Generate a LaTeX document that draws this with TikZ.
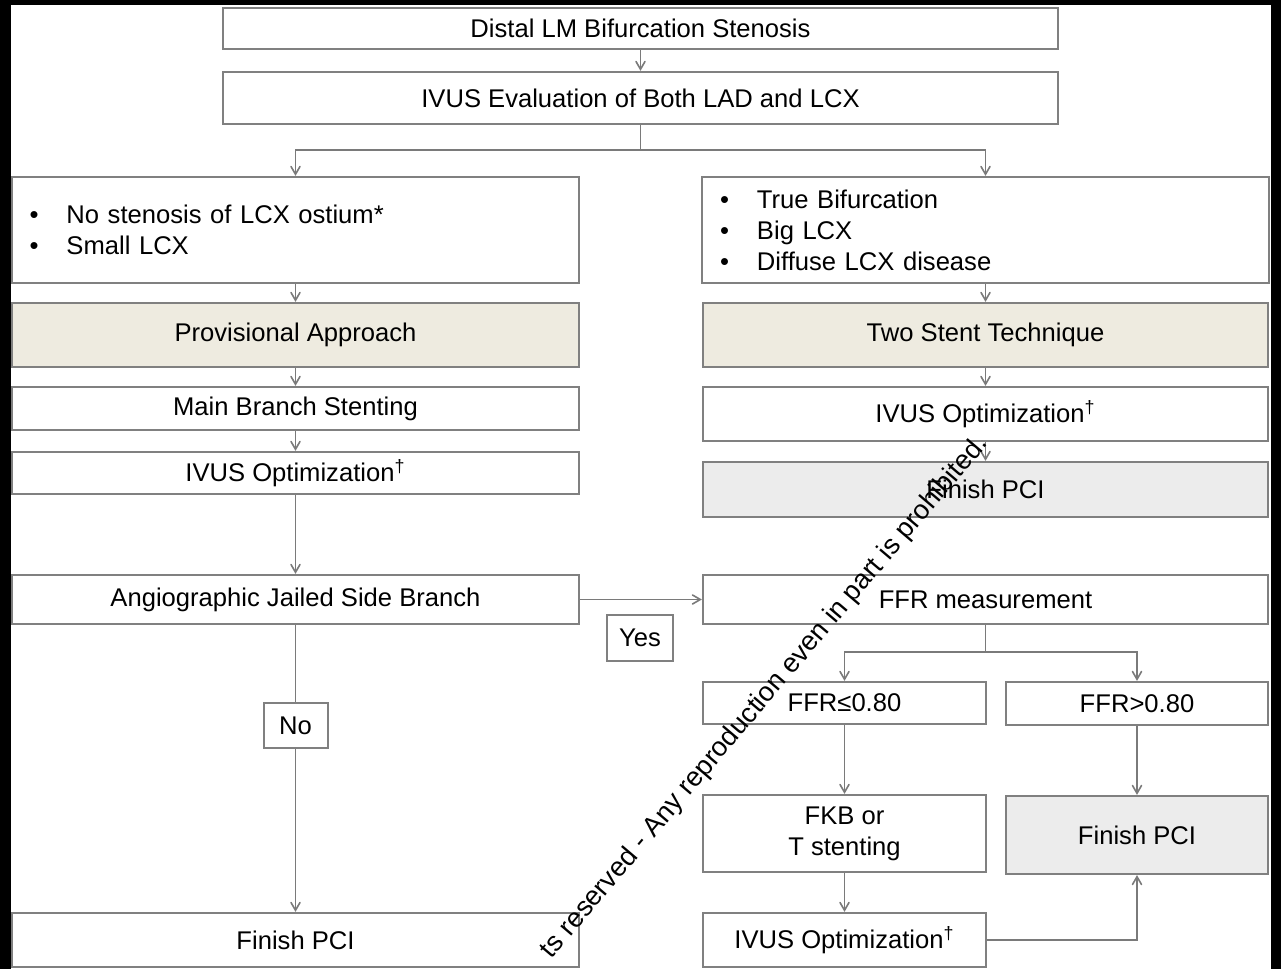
\documentclass[tikz,border=0pt]{standalone}
\usepackage{fontspec}
\setmainfont{Liberation Sans}
\usepackage{tikz}
\usetikzlibrary{arrows, positioning, calc}

\definecolor{boxgray}{HTML}{808080}
\definecolor{approachfill}{HTML}{EEEBE0}
\definecolor{finishfill}{HTML}{ECECEC}
\definecolor{linegray}{HTML}{7A7A7A}

\newcommand{\bul}{\makebox[18.5pt][l]{\textbullet}}

\begin{document}
\begin{tikzpicture}[x=0.5pt, y=-0.5pt,
                font=\fontsize{12.8}{15.5}\selectfont,
                % Define styles
                block/.style={rectangle, draw=boxgray, line width=1.1pt, fill=white, text centered, inner sep=0pt, minimum width=283.5pt},
                approach/.style={block, fill=approachfill},
                finish/.style={block, fill=finishfill},
                criteria/.style={block, align=left, text width=266pt, inner xsep=8.5pt, minimum height=53pt},
                tag/.style={rectangle, draw=boxgray, line width=1pt, fill=white, inner sep=0pt},
                line/.style={draw=linegray, -angle 60, line width=0.8pt},
                link/.style={draw=linegray, line width=0.8pt},
                watermark/.style={font=\fontsize{13.6}{15}\selectfont, text=black, rotate=49.7}
            ]

            % --- Frame ---
            \useasboundingbox (0,0) rectangle (1281,969);
            \fill[black] (0,0) rectangle (1281,969);
            \fill[white] (11,5) rectangle (1271,969);

            % --- Nodes ---

            % 1. Lesion and evaluation
            \node [block, minimum width=417.5pt, minimum height=20.5pt] (lm) at (640.5,28.5) {Distal LM Bifurcation Stenosis};
            \node [block, minimum width=417.5pt, minimum height=26pt] (eval) at (640.5,98) {IVUS Evaluation of Both LAD and LCX};

            % 2. Provisional branch
            \node [criteria] (small) at (295.5,230) {\bul No stenosis of LCX ostium*\\\bul Small LCX};
            \node [approach, minimum height=32pt] (prov) at (295.5,335) {Provisional Approach};
            \node [block, minimum height=21.5pt] (mbs) at (295.5,408.5) {Main Branch Stenting};
            \node [block, minimum height=21pt] (optL) at (295.5,473) {IVUS Optimization\textsuperscript{\dag}};
            \node [block, minimum height=24.5pt] (jailed) at (295.5,599.5) {Angiographic Jailed Side Branch};
            \node [tag, minimum width=32pt, minimum height=22.5pt] (no) at (295.5,725.5) {No};
            \node [block, minimum height=27pt] (finL) at (295.5,940) {Finish PCI};

            % 3. Two stent branch
            \node [criteria, text width=265.5pt] (big) at (985.5,230) {\bul True Bifurcation\\\bul Big LCX\\\bul Diffuse LCX disease};
            \node [approach, minimum width=282.5pt, minimum height=32pt] (two) at (985.5,335) {Two Stent Technique};
            \node [block, minimum width=282.5pt, minimum height=27pt] (optR) at (985.5,414) {IVUS Optimization\textsuperscript{\dag}};
            \node [finish, minimum width=282.5pt, minimum height=27.5pt] (finR) at (985.5,489.5) {Finish PCI};

            % 4. FFR of the jailed side branch
            \node [block, minimum width=282.5pt, minimum height=24.5pt] (ffr) at (985.5,599.5) {FFR measurement};
            \node [tag, minimum width=33pt, minimum height=23pt] (yes) at (640,638) {Yes};
            \node [block, minimum width=141.5pt, minimum height=21pt] (low) at (844.5,703) {FFR≤0.80};
            \node [block, minimum width=131pt, minimum height=21.5pt] (high) at (1137,703.5) {FFR>0.80};
            \node [block, minimum width=141.5pt, minimum height=38.5pt, align=center] (fkb) at (844.5,833.5) {FKB or\\T stenting};
            \node [finish, minimum width=131pt, minimum height=39pt] (finS) at (1137,835) {Finish PCI};
            \node [block, minimum width=141.5pt, minimum height=27pt] (optB) at (844.5,940) {IVUS Optimization\textsuperscript{\dag}};

            % --- Edges ---
            \path [line] (lm) -- (eval);
            \coordinate (split) at (640.5,150);
            \path [link] (eval) -- (split);
            \path [line] (split) -| (small.north);
            \path [line] (split) -| (big.north);

            \path [line] (small) -- (prov);
            \path [line] (prov) -- (mbs);
            \path [line] (mbs) -- (optL);
            \path [line] (optL) -- (jailed);
            \path [link] (jailed) -- (no);
            \path [line] (no) -- (finL);

            \path [line] (big) -- (two);
            \path [line] (two) -- (optR);
            \path [line] (optR) -- (finR);

            \path [line] (jailed) -- (ffr);
            \coordinate (ffrsplit) at (985.5,652);
            \path [link] (ffr) -- (ffrsplit);
            \path [line] (ffrsplit) -| (low.north);
            \path [line] (ffrsplit) -| (high.north);
            \path [line] (low) -- (fkb);
            \path [line] (fkb) -- (optB);
            \path [line] (high) -- (finS);
            \path [line] (optB) -| (finS.south);

            % --- Notice ---
            \node [watermark] (notice) at (765,697) {ts reserved - Any reproduction even in part is prohibited.};

\end{tikzpicture}
\end{document}
